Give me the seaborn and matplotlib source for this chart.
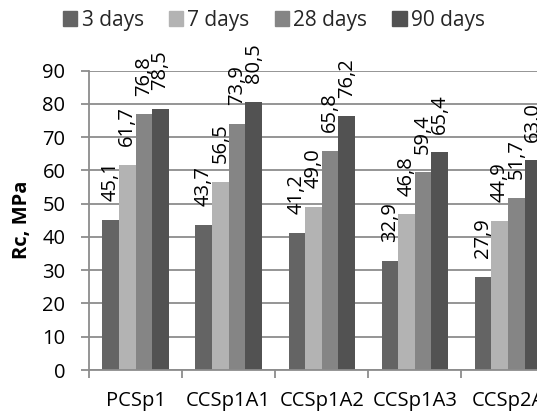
import matplotlib
matplotlib.use("Agg")
import matplotlib.pyplot as plt
import matplotlib.patches as mpatches
import seaborn as sns
import pandas as pd
import numpy as np

categories = ["PCSp1", "CCSp1A1", "CCSp1A2", "CCSp1A3", "CCSp2A"]
ages = ["3 days", "7 days", "28 days", "90 days"]
days3 = [45.1, 43.7, 41.2, 32.9, 27.9]
days7 = [61.7, 56.5, 49.0, 46.8, 44.9]
days28 = [76.8, 73.9, 65.8, 59.4, 51.7]
days90 = [78.5, 80.5, 76.2, 65.4, 63.0]
colors = ["#646464", "#b3b3b3", "#858585", "#525252"]
yticks = [0, 10, 20, 30, 40, 50, 60, 70, 80, 90]

series = [days3, days7, days28, days90]
rows = []
for age, vals in zip(ages, series):
    for c, v in zip(categories, vals):
        rows.append({"cat": c, "age": age, "val": v})
df = pd.DataFrame(rows)

sns.set_theme(style="white")
plt.rcParams["font.family"] = ["Open Sans", "DejaVu Sans"]
FS = 14.5

fig = plt.figure(figsize=(5.44, 4.12), dpi=100)
ax = fig.add_axes([89/544, 42/412, 465.5/544, 299.5/412])

sns.barplot(data=df, x="cat", y="val", hue="age", order=categories,
            hue_order=ages, palette=colors, width=0.714, gap=0,
            saturation=1, linewidth=0, ax=ax, legend=False, errorbar=None)

ax.set_xlim(-0.5, len(categories) - 0.5)
ax.set_ylim(0, 90)
ax.set_yticks(yticks)
ax.set_yticklabels([str(t) for t in yticks], fontsize=FS, color="black")
ax.yaxis.grid(True, color="#8c8c8c", linewidth=1.3)
ax.set_axisbelow(True)

# category labels with ticks at boundaries
ax.set_xticks(range(len(categories)))
ax.set_xticklabels(categories, fontsize=FS, color="black")
ax.tick_params(axis="x", which="major", length=0, pad=15)
ax.set_xticks(np.arange(-0.5, len(categories), 1.0), minor=True)
ax.tick_params(axis="x", which="minor", length=6, width=1.3, color="#8c8c8c", direction="out", bottom=True)
ax.tick_params(axis="y", length=6, width=1.3, color="#8c8c8c", direction="out", left=True, pad=11)

for s in ["top", "right"]:
    ax.spines[s].set_visible(False)
for s in ["left", "bottom"]:
    ax.spines[s].set_color("#8c8c8c")
    ax.spines[s].set_linewidth(1.3)

ax.set_xlabel("")
ax.set_ylabel("Rc, MPa", fontsize=FS, fontweight="bold", color="black")
ax.yaxis.set_label_coords(-57/465.5, 0.5)

# value labels
for cont in ax.containers:
    for bar in cont:
        h = bar.get_height()
        ax.annotate(f"{h:.1f}".replace(".", ","),
                    (bar.get_x() + bar.get_width() / 2, h),
                    xytext=(0, 13.5), textcoords="offset points",
                    rotation=90, ha="center", va="bottom", fontsize=FS,
                    color="black", annotation_clip=False)

handles = [mpatches.Patch(color=c, label=a) for c, a in zip(colors, ages)]
fig.legend(handles=handles, loc="center", bbox_to_anchor=(274/544, 1 - 20.5/412),
           ncol=4, frameon=False, fontsize=15, handlelength=0.7, handleheight=0.7,
           handletextpad=0.2, columnspacing=1.2, borderaxespad=0)

# white margin at right edge where the original is clipped
fig.patches.append(mpatches.Rectangle((537/544, 0), 7/544, 1, transform=fig.transFigure,
                                      facecolor="white", edgecolor="none", zorder=100))

fig.savefig("out.png", dpi=100)
